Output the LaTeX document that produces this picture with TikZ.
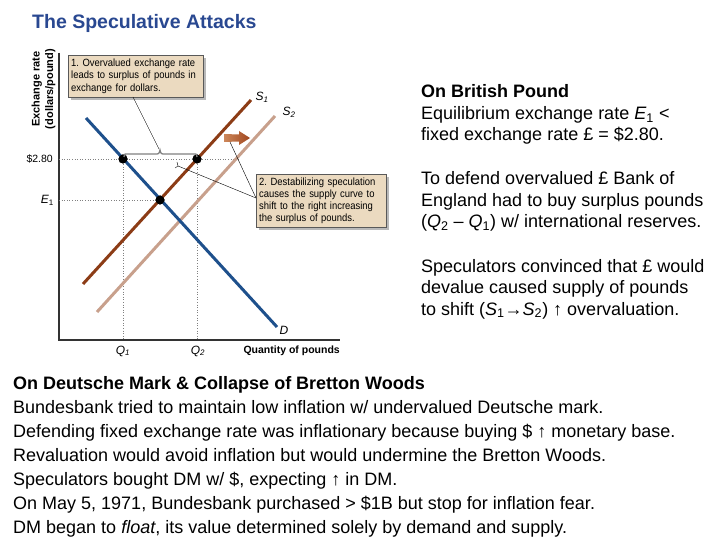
\documentclass[tikz,border=0pt]{standalone}
\usepackage{fontspec}
\setmainfont{Liberation Sans}
\newfontfamily\boxfont[FakeStretch=0.9]{Liberation Sans}
\usetikzlibrary{shadows}
\definecolor{titleblue}{RGB}{41,72,145}
\definecolor{dblue}{RGB}{30,80,140}
\definecolor{sone}{RGB}{140,60,22}
\definecolor{stwo}{RGB}{200,160,140}
\definecolor{boxtan}{RGB}{235,218,192}
\definecolor{arrowlight}{RGB}{205,135,90}
\definecolor{arrowdark}{RGB}{160,70,30}
\newcommand\lsub[1]{\textsubscript{#1}}
\frenchspacing
\tikzset{
  txt/.style={anchor=base west, inner sep=0pt, font=\fontsize{18}{21}\selectfont},
  txtb/.style={txt, font=\fontsize{18}{21}\selectfont\bfseries},
  curve/.style={line width=3pt},
  guide/.style={gray, dotted, line width=0.6pt},
  leader/.style={black, line width=0.4pt},
  dot/.style={circle, fill=black, inner sep=0pt, minimum size=9pt},
  notebox/.style={draw=gray!70!black, line width=0.4pt, fill=boxtan, align=left,
    inner sep=3pt, anchor=north west,
    font=\boxfont\fontsize{10.5}{12}\selectfont,
    drop shadow={shadow xshift=2.5pt, shadow yshift=-2.5pt, fill=gray!55, opacity=1}},
  axlab/.style={inner sep=0pt, font=\fontsize{10.5}{12}\selectfont},
  curvelab/.style={inner sep=0pt, font=\fontsize{12}{14}\selectfont\itshape}
}
\begin{document}
\begin{tikzpicture}[x=1pt, y=-1pt]
\useasboundingbox[fill=white] (0,0) rectangle (720,540);

% title
\node[anchor=base west, inner sep=0pt, text=titleblue, font=\fontsize{19.5}{22}\selectfont\bfseries] (title) at (32,29) {The Speculative Attacks};

% axes
\coordinate (ytop) at (59,53);
\coordinate (orig) at (59,340);
\coordinate (xend) at (340,340);
\draw[line width=1.2pt, black!80] (ytop) -- (orig) -- (xend);

\node[axlab, rotate=90, align=center, font=\fontsize{11}{13.5}\selectfont\bfseries] (ylab) at (43.5,89) {Exchange rate\\(dollars/pound)};
\node[axlab, anchor=east, font=\fontsize{10.5}{12}\selectfont\bfseries] (xlab) at (340,350.5) {Quantity of pounds};

% points
\node[dot] (A) at (123,159) {};
\node[dot] (B) at (197,159) {};
\node[dot] (E) at (160,200) {};
\coordinate (y280) at (59,159);
\coordinate (yE) at (59,200);
\coordinate (q1) at (123,340);
\coordinate (q2) at (197,340);
\coordinate (gend) at (240,159);

% guides
\draw[guide] (y280) -- (gend);
\draw[guide] (yE) -- (E.center);
\draw[guide] (A.center) -- (q1);
\draw[guide] (B.center) -- (q2);

% curves
\coordinate (d1) at (86,118);
\coordinate (d2) at (277,327);
\coordinate (s11) at (83,284);
\coordinate (s12) at (251,100);
\coordinate (s21) at (97,312);
\coordinate (s22) at (275,116);
\draw[curve, stwo] (s21) -- (s22);
\draw[curve, sone] (s11) -- (s12);
\draw[curve, dblue] (d1) -- (d2);
\node[dot] at (A) {};
\node[dot] at (B) {};
\node[dot] at (E) {};

% labels
\node[axlab, anchor=east] (l280) at (53,159) {\$2.80};
\node[curvelab, anchor=east] (lE) at (54,200) {E\lsub{\upshape 1}};
\node[curvelab] (lQ1) at (123,351) {Q\lsub{1}};
\node[curvelab] (lQ2) at (198,351) {Q\lsub{2}};
\node[curvelab] (lD) at (284,330) {D};
\node[curvelab] (lS1) at (262,97) {S\lsub{1}};
\node[curvelab] (lS2) at (289,112) {S\lsub{2}};

% brace
\draw[gray, line width=1.3pt] (124,157) .. controls (124,154) .. (128,154) -- (155,154)
  .. controls (159,154) .. (160,150) .. controls (161,154) .. (165,154) -- (193,154)
  .. controls (197,154) .. (197,157);
\coordinate (btip) at (159,149);

% shift arrow
\shade[left color=arrowlight, right color=arrowdark]
  (224,134) -- (239,134.5) -- (239,131) -- (250,138) -- (239,145) -- (239,141.5) -- (224,142) -- cycle;
\coordinate (arrbot) at (230,142);

% note boxes
\node[notebox, minimum width=135pt, minimum height=42pt, text width=129pt,
      font=\boxfont\fontsize{10.5}{12.5}\selectfont] (box1) at (68,55)
  {1. Overvalued exchange rate\\leads to surplus of pounds in\\exchange for dollars.};
\node[notebox, minimum width=130pt, minimum height=53pt, text width=124pt] (box2) at (256,174)
  {2. Destabilizing speculation\\causes the supply curve to\\shift to the right increasing\\the surplus of pounds.};

% leaders
\coordinate (b1l) at (133,97);
\coordinate (b2l) at (256,198);
\coordinate (tick) at (178,166);
\draw[leader] (b1l) -- (btip);
\draw[leader] (b2l) -- (arrbot);
\draw[leader] (b2l) -- (tick);
\draw[leader] (175,168) -- (178,166) -- (177,162);

% right text
\node[txtb] (r1) at (421,98) {On British Pound};
\node[txt] (r2) at (421,119.5) {Equilibrium exchange rate \textit{E}\lsub{1} <};
\node[txt] (r3) at (421,141) {fixed exchange rate £ = \$2.80.};
\node[txt] (r4) at (421,185) {To defend overvalued £ Bank of};
\node[txt] (r5) at (421,206.5) {England had to buy surplus pounds};
\node[txt] (r6) at (421,228) {(\textit{Q}\lsub{2} – \textit{Q}\lsub{1}) w/ international reserves.};
\node[txt] (r7) at (421,272) {Speculators convinced that £ would};
\node[txt] (r8) at (421,293.5) {devalue caused supply of pounds};
\node[txt] (r9) at (421,315) {to shift (\textit{S}\lsub{1}→\textit{S}\lsub{2}) ↑ overvaluation.};

% bottom text
\node[txtb] (b1) at (13,389) {On Deutsche Mark \& Collapse of Bretton Woods};
\node[txt] (b2) at (13,413) {Bundesbank tried to maintain low inflation w/ undervalued Deutsche mark.};
\node[txt] (b3) at (13,437) {Defending fixed exchange rate was inflationary because buying \$ ↑ monetary base.};
\node[txt] (b4) at (13,461) {Revaluation would avoid inflation but would undermine the Bretton Woods.};
\node[txt] (b5) at (13,485) {Speculators bought DM w/ \$, expecting ↑ in DM.};
\node[txt] (b6) at (13,509) {On May 5, 1971, Bundesbank purchased > \$1B but stop for inflation fear.};
\node[txt] (b7) at (13,533) {DM began to \textit{float}, its value determined solely by demand and supply.};
\end{tikzpicture}
\end{document}
